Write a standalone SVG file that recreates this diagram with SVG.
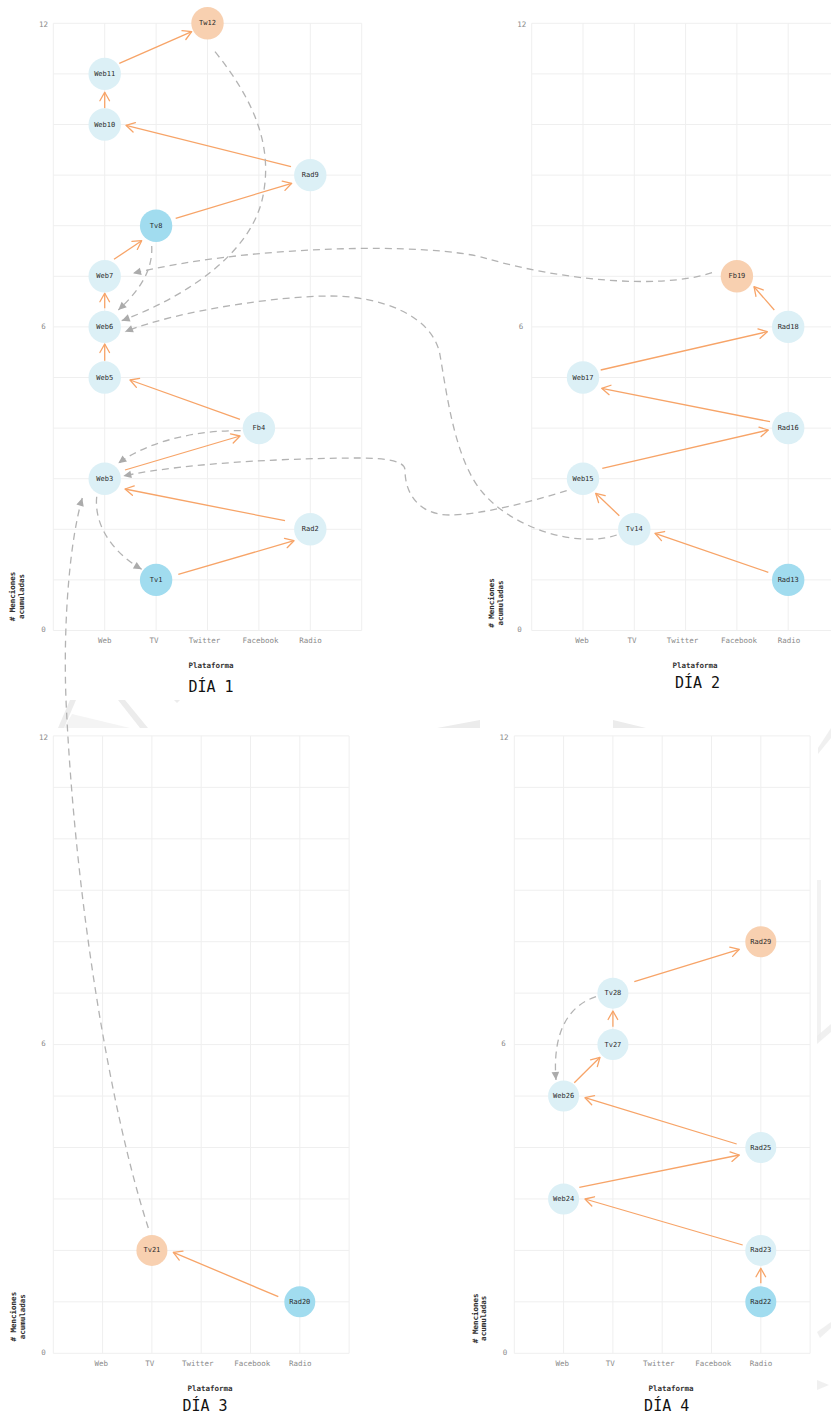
<svg xmlns="http://www.w3.org/2000/svg" width="831" height="1414" viewBox="0 0 831 1414">
<style>
.grid{stroke:#EFEFEF;stroke-width:1;fill:none}
.edge{stroke:#F7A468;stroke-width:1.3;fill:none;marker-end:url(#ao)}
.dash{stroke:#B3B3B3;stroke-width:1.3;fill:none;stroke-dasharray:7 5;marker-end:url(#ag)}
.lt{fill:#DCF0F6}
.dk{fill:#A1DCEF}
.pc{fill:#F8D0B0}
.nl{font-family:"DejaVu Sans Mono","Liberation Mono",monospace;font-size:7px;fill:#2b2b2b;text-anchor:middle;dominant-baseline:central}
.tk{font-family:"DejaVu Sans Mono","Liberation Mono",monospace;font-size:7.5px;fill:#8a8a8a;text-anchor:middle;dominant-baseline:central}
.ax{font-family:"DejaVu Sans Mono","Liberation Mono",monospace;font-size:7.5px;font-weight:bold;fill:#333;text-anchor:middle;dominant-baseline:central}
.day{font-family:"DejaVu Sans Mono","Liberation Mono",monospace;font-size:15px;fill:#111;text-anchor:middle;dominant-baseline:central}
.wm{fill:#ECECEC}
</style>
<defs>
<marker id="ao" markerUnits="userSpaceOnUse" markerWidth="14" markerHeight="14" viewBox="-11 -7 14 14" refX="0" refY="0" orient="auto"><path d="M-8.5,-4.8 L0,0 L-8.5,4.8" fill="none" stroke="#F7A468" stroke-width="1.3" stroke-linecap="round" stroke-linejoin="round"/></marker>
<marker id="ag" markerUnits="userSpaceOnUse" markerWidth="14" markerHeight="14" viewBox="-11 -7 14 14" refX="0" refY="0" orient="auto"><path d="M-8,-3.8 L0,0 L-8,3.8 Z" fill="#ABABAB"/></marker>
</defs>
<rect width="831" height="1414" fill="#fff"/>
<g id="watermark">
<polygon class="wm" points="58,728 70,700 76,700 64,728"/>
<polygon class="wm" points="64,728 72,714 130,728" opacity="0.6"/>
<polygon class="wm" points="118,700 125,700 148,728 140,728"/>
<polygon class="wm" points="174,700 180,700 177,703"/>
<polygon class="wm" points="437,728 480,720 480,728"/>
<polygon class="wm" points="613,720 613,728 646,728"/>
<polygon class="wm" points="818,748 831,728 831,738 818,754" opacity="0.8"/>
<polygon class="wm" points="817,880 821,880 821,1040 817,1040" opacity="0.7"/>
<polygon class="wm" points="817,1036 831,1024 831,1032 817,1044" opacity="0.8"/>
<polygon class="wm" points="817,1332 831,1322 831,1328 820,1338" opacity="0.8"/>
<polygon class="wm" points="817,1380 829,1385 817,1390" opacity="0.8"/>
</g>
<g id="grid">
<path class="grid" d="M53.3,630.5H361.7M53.3,579.9H361.7M53.3,529.3H361.7M53.3,478.7H361.7M53.3,428.1H361.7M53.3,377.5H361.7M53.3,326.9H361.7M53.3,276.3H361.7M53.3,225.7H361.7M53.3,175.1H361.7M53.3,124.5H361.7M53.3,73.9H361.7M53.3,23.3H361.7M53.3,23.3V630.5M104.7,23.3V630.5M156.1,23.3V630.5M207.5,23.3V630.5M258.9,23.3V630.5M310.3,23.3V630.5M361.7,23.3V630.5"/>
<path class="grid" d="M531.7,630.5H840M531.7,579.9H840M531.7,529.3H840M531.7,478.7H840M531.7,428.1H840M531.7,377.5H840M531.7,326.9H840M531.7,276.3H840M531.7,225.7H840M531.7,175.1H840M531.7,124.5H840M531.7,73.9H840M531.7,23.3H840M531.7,23.3V630.5M583,23.3V630.5M634.3,23.3V630.5M685.6,23.3V630.5M736.9,23.3V630.5M788.2,23.3V630.5"/>
<path class="grid" d="M53.3,1353.3H349.1M53.3,1301.85H349.1M53.3,1250.4H349.1M53.3,1198.95H349.1M53.3,1147.5H349.1M53.3,1096.05H349.1M53.3,1044.6H349.1M53.3,993.15H349.1M53.3,941.7H349.1M53.3,890.25H349.1M53.3,838.8H349.1M53.3,787.35H349.1M53.3,735.9H349.1M53.3,735.9V1353.3M102.6,735.9V1353.3M151.9,735.9V1353.3M201.2,735.9V1353.3M250.5,735.9V1353.3M299.8,735.9V1353.3M349.1,735.9V1353.3"/>
<path class="grid" d="M514.3,1353.3H810.1M514.3,1301.85H810.1M514.3,1250.4H810.1M514.3,1198.95H810.1M514.3,1147.5H810.1M514.3,1096.05H810.1M514.3,1044.6H810.1M514.3,993.15H810.1M514.3,941.7H810.1M514.3,890.25H810.1M514.3,838.8H810.1M514.3,787.35H810.1M514.3,735.9H810.1M514.3,735.9V1353.3M563.6,735.9V1353.3M612.9,735.9V1353.3M662.2,735.9V1353.3M711.5,735.9V1353.3M760.8,735.9V1353.3M810.1,735.9V1353.3"/>
</g>
<g id="axes">
<text class="tk" x="43.5" y="24.5">12</text><text class="tk" x="43.5" y="326.9">6</text><text class="tk" x="43.5" y="629.5">0</text>
<text class="tk" x="104.7" y="640.7">Web</text><text class="tk" x="154" y="640.7">TV</text><text class="tk" x="204.5" y="640.7">Twitter</text><text class="tk" x="260.5" y="640.7">Facebook</text><text class="tk" x="310.5" y="640.7">Radio</text>
<text class="ax" x="211" y="665.3">Plataforma</text>
<text class="day" x="211" y="687">DÍA 1</text>
<text class="ax" transform="translate(12,596.5) rotate(-90)">#&#160;Menciones</text>
<text class="ax" transform="translate(21,596.5) rotate(-90)">acumuladas</text>

<text class="tk" x="521.7" y="24.5">12</text><text class="tk" x="521" y="326.9">6</text><text class="tk" x="519.5" y="629.5">0</text>
<text class="tk" x="582" y="640.7">Web</text><text class="tk" x="632" y="640.7">TV</text><text class="tk" x="682.5" y="640.7">Twitter</text><text class="tk" x="739" y="640.7">Facebook</text><text class="tk" x="789" y="640.7">Radio</text>
<text class="ax" x="695" y="665.3">Plataforma</text>
<text class="day" x="697.5" y="682.5">DÍA 2</text>
<text class="ax" transform="translate(491.7,603) rotate(-90)">#&#160;Menciones</text>
<text class="ax" transform="translate(500.2,603) rotate(-90)">acumuladas</text>

<text class="tk" x="43.5" y="737">12</text><text class="tk" x="43.5" y="1043.5">6</text><text class="tk" x="43.5" y="1352">0</text>
<text class="tk" x="101.3" y="1363">Web</text><text class="tk" x="149.7" y="1363">TV</text><text class="tk" x="197.7" y="1363">Twitter</text><text class="tk" x="252.3" y="1363">Facebook</text><text class="tk" x="300.3" y="1363">Radio</text>
<text class="ax" x="210" y="1388.7">Plataforma</text>
<text class="day" x="205" y="1405.5">DÍA 3</text>
<text class="ax" transform="translate(13.3,1316.7) rotate(-90)">#&#160;Menciones</text>
<text class="ax" transform="translate(22.3,1316.7) rotate(-90)">acumuladas</text>

<text class="tk" x="504" y="737">12</text><text class="tk" x="503.5" y="1043">6</text><text class="tk" x="505" y="1352">0</text>
<text class="tk" x="562.3" y="1363.3">Web</text><text class="tk" x="610.3" y="1363.3">TV</text><text class="tk" x="658.7" y="1363.3">Twitter</text><text class="tk" x="713.3" y="1363.3">Facebook</text><text class="tk" x="761" y="1363.3">Radio</text>
<text class="ax" x="671" y="1388.3">Plataforma</text>
<text class="day" x="666.7" y="1405.5">DÍA 4</text>
<text class="ax" transform="translate(475,1318.3) rotate(-90)">#&#160;Menciones</text>
<text class="ax" transform="translate(483.3,1318.3) rotate(-90)">acumuladas</text>
</g>
<g id="connectors">
<path class="edge" d="M178.3,574.3L294,540.7"/>
<path class="edge" d="M285,520.7L125,489"/>
<path class="edge" d="M125,470L240,436"/>
<path class="edge" d="M240,419.3L130,380"/>
<path class="edge" d="M104.7,360.7L104.7,344"/>
<path class="edge" d="M104.7,308.3L104.7,293.3"/>
<path class="edge" d="M114,259.3L141.7,240.7"/>
<path class="edge" d="M175.7,218.3L291.7,183.3"/>
<path class="edge" d="M291,166.7L126,125.3"/>
<path class="edge" d="M104.7,108.3L104.7,92.3"/>
<path class="edge" d="M119.3,63.3L191.7,31.7"/>
<path class="edge" d="M768.3,572.3L655,533.3"/>
<path class="edge" d="M619.3,515.7L595.7,493.3"/>
<path class="edge" d="M602.3,468.3L768.3,430"/>
<path class="edge" d="M770,421.7L601.7,388.3"/>
<path class="edge" d="M600.7,370L767.3,331.7"/>
<path class="edge" d="M774.3,310L754,286.7"/>
<path class="edge" d="M278.3,1296.7L173.3,1252.3"/>
<path class="edge" d="M760.8,1283.3L760.8,1268.3"/>
<path class="edge" d="M742.7,1245L585,1199"/>
<path class="edge" d="M579.3,1187.3L739.3,1155"/>
<path class="edge" d="M736.7,1144L585,1097.7"/>
<path class="edge" d="M574.3,1082.7L600,1057.3"/>
<path class="edge" d="M612.9,1026.7L612.9,1011"/>
<path class="edge" d="M634.3,981.7L739.3,949.3"/>
<path class="dash" d="M96.7,496.7C94,525 112,552 141.7,569.3"/>
<path class="dash" d="M240.7,430.7C200,430 150,440 118.3,463.3"/>
<path class="dash" d="M215,51.7C250,95 272,140 264,190C256,250 190,295 121.7,320.7"/>
<path class="dash" d="M151.7,246C153,270 140,290 118.3,310"/>
<path class="dash" d="M712,272.7C660,290 560,280 486,258.3C430,242 250,245 133,273.3"/>
<path class="dash" d="M616.7,535C580,548 515,530 483,493C455,461 447,395 440,355C433,315 380,296 330,296C280,296 180,310 125,331.7"/>
<path class="dash" d="M566.7,490.7C530,502 480,515 450,515C420,515 405,495 405,470C405,462 390,458 360,458C300,458 190,462 123.3,476"/>
<path class="dash" d="M148.3,1228C110,1110 75,900 66,700C63,620 70,540 82.3,498"/>
<path class="dash" d="M596,996.7C570,1005 552,1030 556,1080"/>
</g>
<g id="Tv1"><circle class="dk" cx="156.1" cy="579.9" r="16.2"/><text class="nl" x="156.1" y="579.9">Tv1</text></g>
<g id="Rad2"><circle class="lt" cx="310.3" cy="529.3" r="16.2"/><text class="nl" x="310.3" y="529.3">Rad2</text></g>
<g id="Web3"><circle class="lt" cx="104.7" cy="478.7" r="16.2"/><text class="nl" x="104.7" y="478.7">Web3</text></g>
<g id="Fb4"><circle class="lt" cx="258.9" cy="428.1" r="16.2"/><text class="nl" x="258.9" y="428.1">Fb4</text></g>
<g id="Web5"><circle class="lt" cx="104.7" cy="377.5" r="16.2"/><text class="nl" x="104.7" y="377.5">Web5</text></g>
<g id="Web6"><circle class="lt" cx="104.7" cy="326.9" r="16.2"/><text class="nl" x="104.7" y="326.9">Web6</text></g>
<g id="Web7"><circle class="lt" cx="104.7" cy="276.3" r="16.2"/><text class="nl" x="104.7" y="276.3">Web7</text></g>
<g id="Tv8"><circle class="dk" cx="156.1" cy="225.7" r="16.2"/><text class="nl" x="156.1" y="225.7">Tv8</text></g>
<g id="Rad9"><circle class="lt" cx="310.3" cy="175.1" r="16.2"/><text class="nl" x="310.3" y="175.1">Rad9</text></g>
<g id="Web10"><circle class="lt" cx="104.7" cy="124.5" r="16.2"/><text class="nl" x="104.7" y="124.5">Web10</text></g>
<g id="Web11"><circle class="lt" cx="104.7" cy="73.9" r="16.2"/><text class="nl" x="104.7" y="73.9">Web11</text></g>
<g id="Tw12"><circle class="pc" cx="207.5" cy="23.3" r="16.2"/><text class="nl" x="207.5" y="23.3">Tw12</text></g>
<g id="Rad13"><circle class="dk" cx="788.2" cy="579.9" r="16.2"/><text class="nl" x="788.2" y="579.9">Rad13</text></g>
<g id="Tv14"><circle class="lt" cx="634.3" cy="529.3" r="16.2"/><text class="nl" x="634.3" y="529.3">Tv14</text></g>
<g id="Web15"><circle class="lt" cx="583" cy="478.7" r="16.2"/><text class="nl" x="583" y="478.7">Web15</text></g>
<g id="Rad16"><circle class="lt" cx="788.2" cy="428.1" r="16.2"/><text class="nl" x="788.2" y="428.1">Rad16</text></g>
<g id="Web17"><circle class="lt" cx="583" cy="377.5" r="16.2"/><text class="nl" x="583" y="377.5">Web17</text></g>
<g id="Rad18"><circle class="lt" cx="788.2" cy="326.9" r="16.2"/><text class="nl" x="788.2" y="326.9">Rad18</text></g>
<g id="Fb19"><circle class="pc" cx="736.9" cy="276.3" r="16.2"/><text class="nl" x="736.9" y="276.3">Fb19</text></g>
<g id="Rad20"><circle class="dk" cx="299.8" cy="1301.85" r="15.5"/><text class="nl" x="299.8" y="1301.85">Rad20</text></g>
<g id="Tv21"><circle class="pc" cx="151.9" cy="1250.4" r="15.5"/><text class="nl" x="151.9" y="1250.4">Tv21</text></g>
<g id="Rad22"><circle class="dk" cx="760.8" cy="1301.85" r="15.5"/><text class="nl" x="760.8" y="1301.85">Rad22</text></g>
<g id="Rad23"><circle class="lt" cx="760.8" cy="1250.4" r="15.5"/><text class="nl" x="760.8" y="1250.4">Rad23</text></g>
<g id="Web24"><circle class="lt" cx="563.6" cy="1198.95" r="15.5"/><text class="nl" x="563.6" y="1198.95">Web24</text></g>
<g id="Rad25"><circle class="lt" cx="760.8" cy="1147.5" r="15.5"/><text class="nl" x="760.8" y="1147.5">Rad25</text></g>
<g id="Web26"><circle class="lt" cx="563.6" cy="1096.05" r="15.5"/><text class="nl" x="563.6" y="1096.05">Web26</text></g>
<g id="Tv27"><circle class="lt" cx="612.9" cy="1044.6" r="15.5"/><text class="nl" x="612.9" y="1044.6">Tv27</text></g>
<g id="Tv28"><circle class="lt" cx="612.9" cy="993.15" r="15.5"/><text class="nl" x="612.9" y="993.15">Tv28</text></g>
<g id="Rad29"><circle class="pc" cx="760.8" cy="941.7" r="15.5"/><text class="nl" x="760.8" y="941.7">Rad29</text></g>
</svg>
